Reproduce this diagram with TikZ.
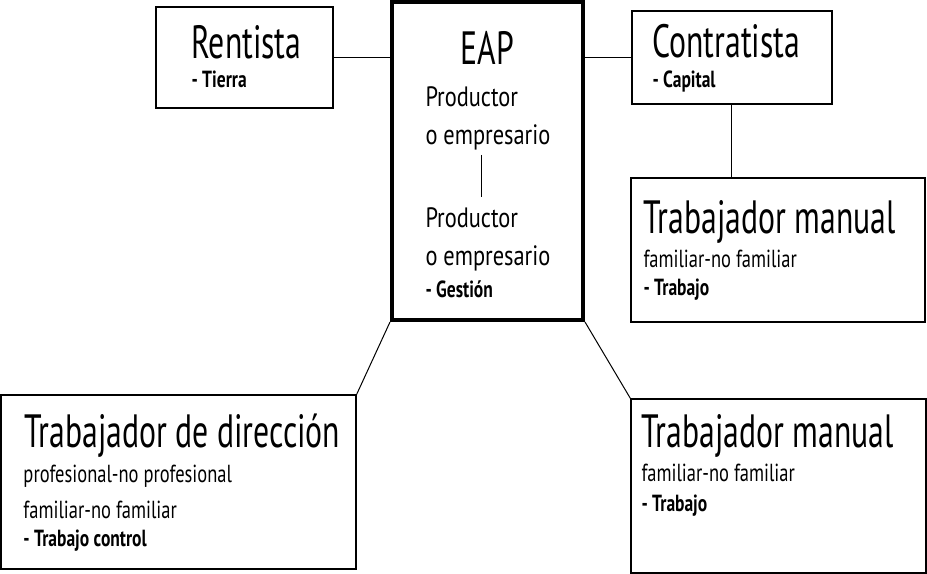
\documentclass[tikz,border=0pt]{standalone}
\usepackage{fontspec}
\setmainfont{PT Sans}
\newfontfamily\titlefont{PT Sans}[FakeStretch=0.68]
\newfontfamily\subfont{PT Sans}[FakeStretch=0.8]
\newfontfamily\subsmallfont{PT Sans}[FakeStretch=0.75]
\newfontfamily\tagfont{PT Sans}[FakeStretch=0.75]
\tikzset{every picture/.style={line width=0.75pt}}
\tikzset{
  box/.style={draw, line width=1pt, inner sep=0pt},
  eapbox/.style={draw, line width=3pt, inner sep=0pt},
  title/.style={anchor=base west, inner sep=0pt, font=\titlefont\fontsize{35}{42}\selectfont},
  sub/.style={anchor=base west, inner sep=0pt, font=\subfont\fontsize{21}{25}\selectfont},
  subsmall/.style={anchor=base west, inner sep=0pt, font=\subsmallfont\fontsize{18.5}{22}\selectfont},
  tag/.style={anchor=base west, inner sep=0pt, font=\tagfont\bfseries\fontsize{17.5}{20}\selectfont}
}
\begin{document}
\begin{tikzpicture}[x=0.75pt,y=0.75pt,yscale=-1,xscale=1]
\useasboundingbox (0,0) rectangle (927,574);

% Boxes
\node [box, minimum width=0.75*177pt, minimum height=0.75*101pt] (rent) at (244.5,57.5) {};
\node [eapbox, minimum width=0.75*191pt, minimum height=0.75*318pt] (eap) at (487.5,161) {};
\node [box, minimum width=0.75*200pt, minimum height=0.75*93pt] (contr) at (732,57.5) {};
\node [box, minimum width=0.75*294pt, minimum height=0.75*144pt] (man1) at (778,250) {};
\node [box, minimum width=0.75*355pt, minimum height=0.75*174pt] (dir) at (178.5,482) {};
\node [box, minimum width=0.75*295pt, minimum height=0.75*174pt] (man2) at (778.5,486) {};

% Connectors
\draw (rent.east) -- (rent.east -| eap.west);
\draw (eap.east |- contr.west) -- (contr.west);
\draw (contr.south -| 731,0) -- (man1.north -| 731,0);
\draw (eap.south west) -- (dir.north east);
\draw (eap.south east) -- (man2.north west);
\draw (481,155) -- (481,197);

% Rentista
\node [title] (rentT) at (191,59) {Rentista};
\node [tag] (rentS) at (191,88) {- Tierra};

% EAP
\node [title] (eapT) at (460,65) {EAP};
\node [sub] (prod1) at (425,107) {Productor};
\node [sub] (emp1) at (425,145) {o empresario};
\node [sub] (prod2) at (425,227) {Productor};
\node [sub] (emp2) at (425,265) {o empresario};
\node [tag] (eapS) at (425,297) {- Gestión};

% Contratista
\node [title] (contrT) at (652,58) {Contratista};
\node [tag] (contrS) at (652,88) {- Capital};

% Trabajador manual (arriba)
\node [title] (man1T) at (643,233) {Trabajador manual};
\node [subsmall] (man1A) at (643,267) {familiar-no familiar};
\node [tag] (man1S) at (643,295) {- Trabajo};

% Trabajador de direccion
\node [title] (dirT) at (24,447) {Trabajador de dirección};
\node [subsmall] (dirA) at (23,482) {profesional-no profesional};
\node [subsmall] (dirB) at (23,518) {familiar-no familiar};
\node [tag] (dirS) at (23,546) {- Trabajo control};

% Trabajador manual (abajo)
\node [title] (man2T) at (641,447) {Trabajador manual};
\node [subsmall] (man2A) at (641,481) {familiar-no familiar};
\node [tag] (man2S) at (641,511) {- Trabajo};
\end{tikzpicture}
\end{document}
